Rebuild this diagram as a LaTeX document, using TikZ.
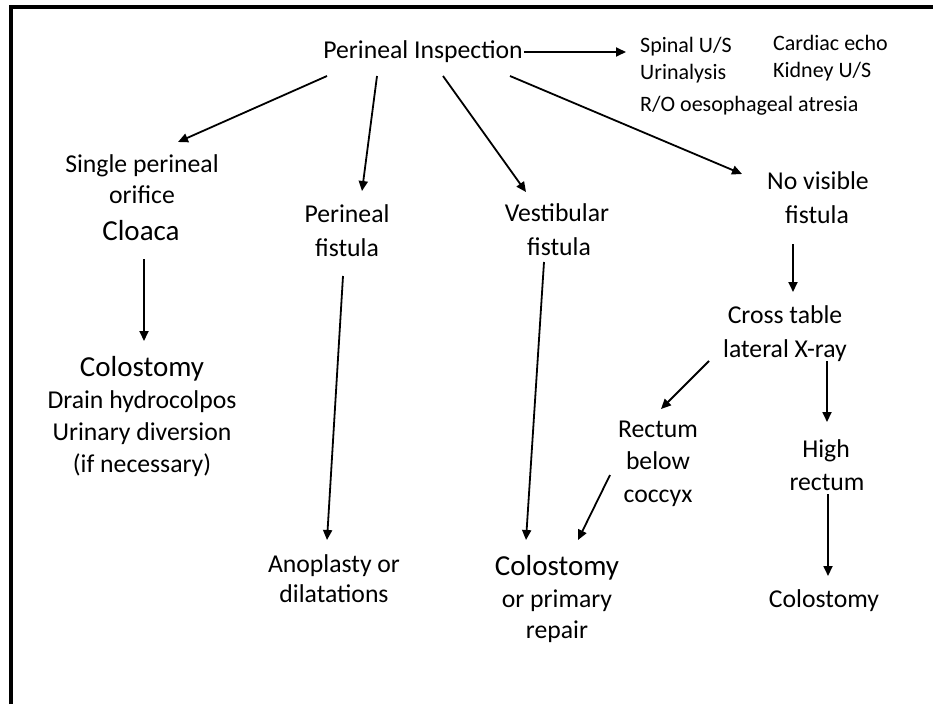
\documentclass[tikz,border=0pt]{standalone}
\usepackage{fontspec}
\setmainfont{Carlito}
\usetikzlibrary{arrows.meta,calc}
\tikzset{
  txt/.style={anchor=base, inner sep=0pt, font=\fontsize{25.7}{30}\selectfont},
  txtsmall/.style={anchor=base west, inner sep=0pt, font=\fontsize{22}{26}\selectfont},
  txtbig/.style={anchor=base, inner sep=0pt, font=\fontsize{29}{34}\selectfont},
  arr/.style={draw, line width=1.8pt, -{Triangle[length=10pt,width=9pt]}},
  frameline/.style={draw, line width=4pt}
}
\begin{document}
\begin{tikzpicture}[x=1pt,y=-1pt]
\useasboundingbox (0,0) rectangle (933,704);
\draw[frameline] (11,704) -- (11,7) -- (933,7);
% texts
\node[txt] (pi) at (423,58) {Perineal Inspection};
\node[txtsmall] (spinal) at (640,52) {Spinal U/S};
\node[txtsmall] (card) at (773,50) {Cardiac echo};
\node[txtsmall] (urin) at (640,79) {Urinalysis};
\node[txtsmall] (kid) at (773,77) {Kidney U/S};
\node[txtsmall] (ro) at (640,111) {R/O oesophageal atresia};
\node[txt] (sp1) at (142,172) {Single perineal};
\node[txt] (sp2) at (142,203) {orifice};
\node[txtbig] (sp3) at (141,240) {Cloaca};
\node[txtbig] (col1) at (142,376) {Colostomy};
\node[txt] (dr) at (142,408) {Drain hydrocolpos};
\node[txt] (ud) at (142,440) {Urinary diversion};
\node[txt] (ifn) at (142,472) {(if necessary)};
\node[txt] (pf1) at (347,222) {Perineal};
\node[txt] (pf2) at (347,256) {fistula};
\node[txt] (vf1) at (557,221) {Vestibular};
\node[txt] (vf2) at (559,255) {fistula};
\node[txt] (nv1) at (818,189) {No visible};
\node[txt] (nv2) at (817,223) {fistula};
\node[txt] (ct1) at (785,323) {Cross table};
\node[txt] (ct2) at (785,357) {lateral X-ray};
\node[txt] (rb1) at (658,437) {Rectum};
\node[txt] (rb2) at (658,469) {below};
\node[txt] (rb3) at (658,502) {coccyx};
\node[txt] (hr1) at (826,457) {High};
\node[txt] (hr2) at (827,490) {rectum};
\node[txt] (ap1) at (334,572) {Anoplasty or};
\node[txt] (ap2) at (334,602) {dilatations};
\node[txtbig] (cp1) at (557,575) {Colostomy};
\node[txt] (cp2) at (557,607) {or primary};
\node[txt] (cp3) at (557,638) {repair};
\node[txt] (col3) at (824,607) {Colostomy};
% connectors
\draw[arr] ($(pi.base east)+(1,-6)$) -- ($(spinal.base west)+(-14,0)$);
\draw[arr] ($(pi.base)+(-96,18)$) -- ($(sp1.base)+(36,-30)$);
\draw[arr] ($(pi.base)+(-46,18)$) -- ($(pf1.base)+(15,-31)$);
\draw[arr] ($(pi.base)+(20,18)$) -- ($(vf1.base)+(-31,-29)$);
\draw[arr] ($(pi.base)+(87,18)$) -- ($(nv1.base)+(-76,-15)$);
\draw[arr] ($(sp3.base)+(3,19)$) -- ($(col1.base)+(2,-35)$);
\draw[arr] ($(pf2.base)+(-4,20)$) -- ($(ap1.base)+(-7,-32)$);
\draw[arr] ($(vf2.base)+(-15,7)$) -- ($(cp1.base)+(-31,-35)$);
\draw[arr] ($(rb3.base)+(-48,-27)$) -- ($(cp1.base)+(21,-35)$);
\draw[arr] ($(nv2.base)+(-24,21)$) -- ($(ct1.base)+(8,-31)$);
\draw[arr] ($(ct2.base)+(-76,4)$) -- ($(rb1.base)+(3,-28)$);
\draw[arr] ($(ct2.base)+(42,4)$) -- ($(hr1.base)+(1,-35)$);
\draw[arr] ($(hr2.base)+(1,4)$) -- ($(col3.base)+(4,-31)$);
\end{tikzpicture}
\end{document}
